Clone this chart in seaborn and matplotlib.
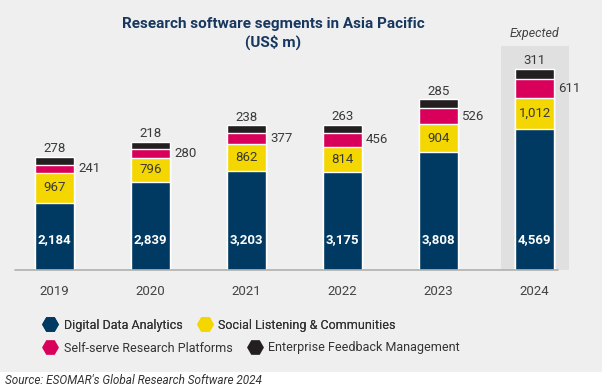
import numpy as np
import pandas as pd
import matplotlib.pyplot as plt
import seaborn as sns
from matplotlib.lines import Line2D
from matplotlib.patches import Rectangle

# --- Data ---
years = ['2019', '2020', '2021', '2022', '2023', '2024']
digital = [2184, 2839, 3203, 3175, 3808, 4569]
social = [967, 796, 862, 814, 904, 1012]
selfserve = [241, 280, 377, 456, 526, 611]
enterprise = [278, 218, 238, 263, 285, 311]

series_names = ['Digital Data Analytics', 'Social Listening & Communities',
                'Self-serve Research Platforms', 'Enterprise Feedback Management']
colors = ['#003a63', '#f4d600', '#d9005b', '#231f20']

# --- Style ---
bg = '#efefef'
sns.set_style('white', {'axes.facecolor': bg, 'figure.facecolor': bg})
plt.rcParams['font.family'] = ['Roboto', 'DejaVu Sans']

df = pd.DataFrame({'year': years, 'digital': digital, 'social': social,
                   'selfserve': selfserve, 'enterprise': enterprise})
df['c1'] = df['digital']
df['c2'] = df['c1'] + df['social']
df['c3'] = df['c2'] + df['selfserve']
df['c4'] = df['c3'] + df['enterprise']

fig = plt.figure(figsize=(6.02, 3.87), dpi=100)
ax = fig.add_axes([0.0108, 0.3023, 0.957, 0.5788])

# highlight for the expected year
ax.axvspan(4.65, 5.36, color='#e0e0e0', zorder=0, lw=0)

bw = 0.41
for col, c in zip(['c4', 'c3', 'c2', 'c1'], colors[::-1]):
    sns.barplot(data=df, x='year', y=col, color=c, width=bw, errorbar=None,
                saturation=1, ax=ax, zorder=2)

ax.set_xlim(-0.5, 5.5)
ax.set_ylim(0, 7250)
sns.despine(ax=ax, left=True, bottom=True)
ax.set_yticks([])
ax.set_xlabel('')
ax.set_ylabel('')
ax.tick_params(axis='x', length=0, pad=11, labelsize=9.5, labelcolor='#444444')

# baseline
fig.add_artist(Line2D([15 / 602, 558 / 602], [117 / 387, 117 / 387],
                      transform=fig.transFigure, color='#b0b0b0', lw=1.2, zorder=5))

txt = '#3a3a3a'
for i, r in df.iterrows():
    ax.text(i, 1000, f"{r['digital']:,}", ha='center', va='center', color='white',
            fontsize=9.5, fontweight='bold', zorder=4)
    ax.text(i, (r['c1'] + r['c2']) / 2, f"{r['social']:,}", ha='center', va='center',
            color=txt, fontsize=9.5, zorder=4)
    ax.text(i + bw / 2 + 0.04, (r['c2'] + r['c3']) / 2, f"{r['selfserve']:,}",
            ha='left', va='center', color=txt, fontsize=9.5, zorder=4)
    ax.text(i, r['c4'] + 60, f"{r['enterprise']:,}", ha='center', va='bottom',
            color=txt, fontsize=9.5, zorder=4)

# --- Titles ---
fig.text(0.4535, 0.955, 'Research software segments in Asia Pacific\n(US$ m)',
         ha='center', va='top', fontsize=11, fontweight='bold', color='#17375e',
         linespacing=1.3)
fig.text(535 / 602, 1 - 33 / 387, 'Expected', ha='center', va='center',
         fontsize=9, style='italic', color='#444444')

# --- Legend (two flowing rows) ---
handles = [Line2D([], [], marker='H', ls='none', markersize=11, color=c) for c in colors]
leg_kw = dict(frameon=False, fontsize=9, handletextpad=0.5, columnspacing=1.2,
              handlelength=1.2, borderpad=0, labelcolor='#333333', loc='center left')
leg1 = fig.legend(handles[:2], series_names[:2], ncol=2,
                  bbox_to_anchor=(36 / 602, 1 - 325 / 387), **leg_kw)
fig.add_artist(leg1)
fig.legend(handles[2:], series_names[2:], ncol=2,
           bbox_to_anchor=(36 / 602, 1 - 348 / 387), **leg_kw)

# --- Source strip ---
fig.patches.append(Rectangle((0, 0), 1, 15 / 387, transform=fig.transFigure,
                             facecolor='white', edgecolor='none', zorder=0))
fig.text(5 / 602, 1 - 380 / 387, "Source: ESOMAR's Global Research Software 2024",
         ha='left', va='center', fontsize=8.5, style='italic', color='#333333')

fig.savefig('out.png', dpi=100, facecolor=bg)
